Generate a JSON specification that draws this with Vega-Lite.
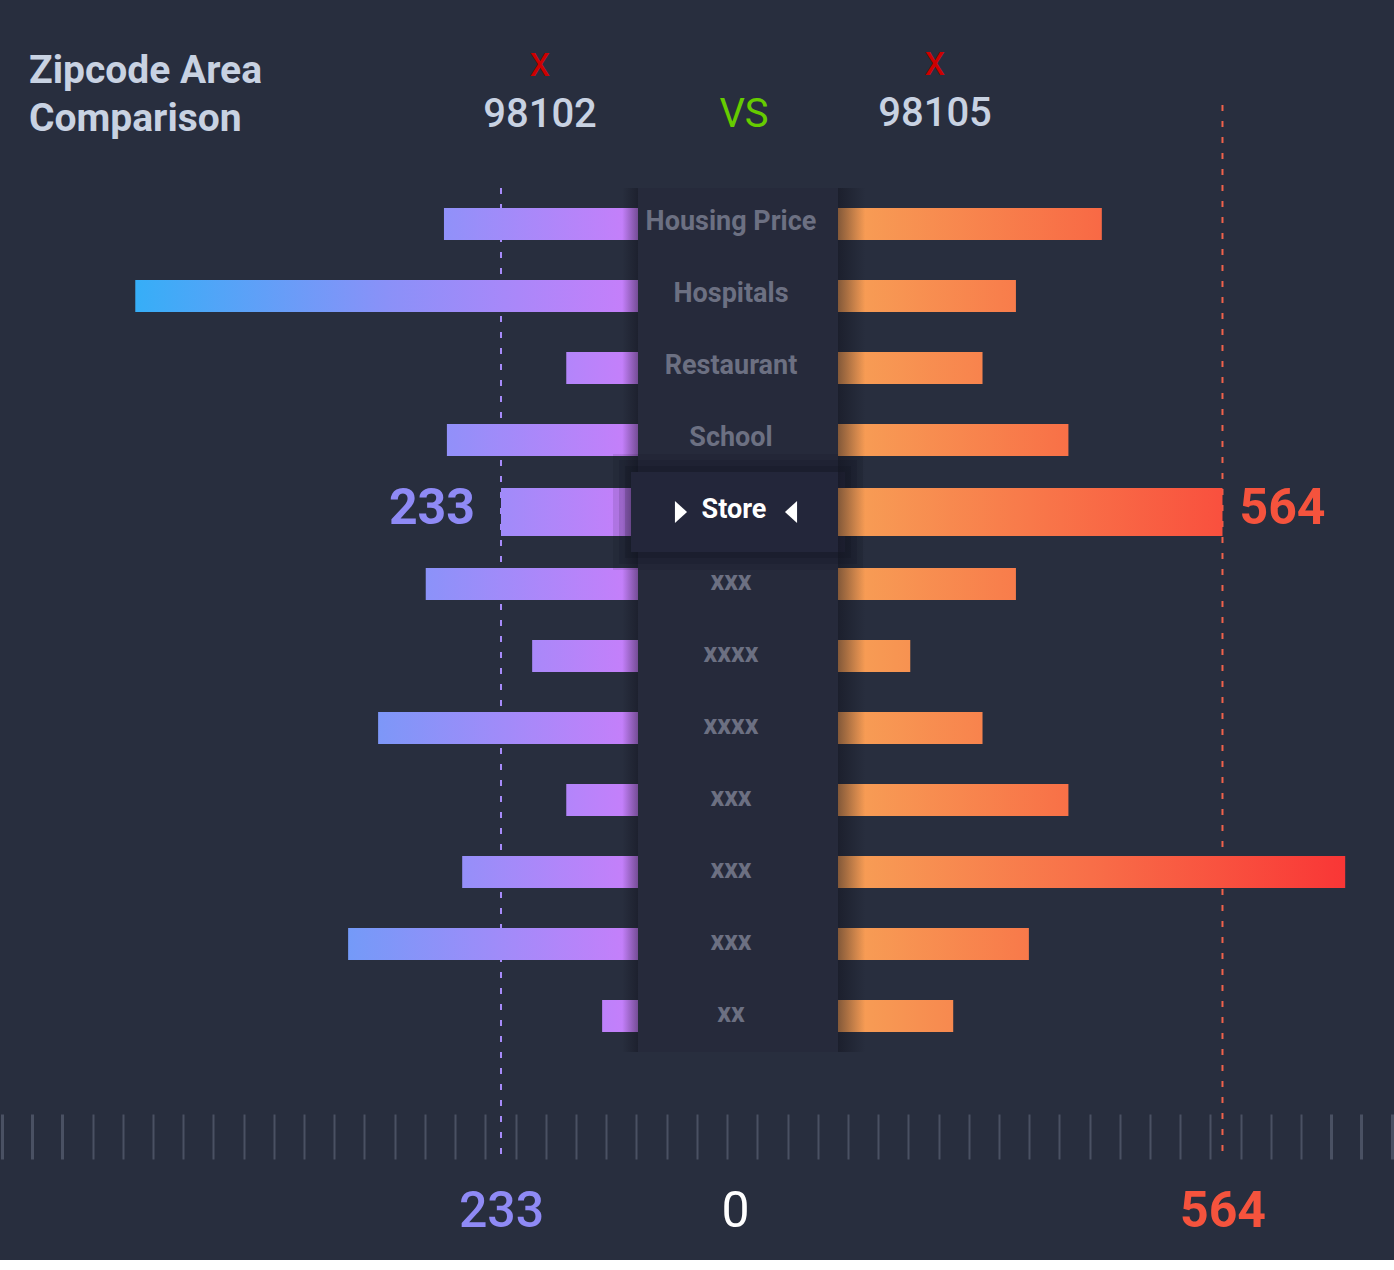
{
  "$schema": "https://vega.github.io/schema/vega-lite/v6.json",
  "background": "#282e3e",
  "padding": {"top": 41, "left": 0, "right": 0, "bottom": 24},
  "autosize": {"type": "pad"},
  "bounds": "flush",
  "spacing": 0,
  "config": {"font": "Roboto", "view": {"stroke": null}},
  "title": {"text": ["Zipcode Area", "Comparison"], "anchor": "start", "frame": "group", "dx": 29, "offset": -98, "fontSize": 39, "lineHeight": 48, "color": "#c8d2e2", "font": "Roboto", "fontWeight": "bold"},
  "data": {"values": [
    {"key": "Housing Price", "label": "Housing Price", "left": 330, "right": 387},
    {"key": "Hospitals", "label": "Hospitals", "left": 855, "right": 261},
    {"key": "Restaurant", "label": "Restaurant", "left": 122, "right": 212},
    {"key": "School", "label": "School", "left": 325, "right": 338},
    {"key": "Store", "label": "Store", "left": 233, "right": 564},
    {"key": "xxx 1", "label": "xxx", "left": 361, "right": 261},
    {"key": "xxxx 1", "label": "xxxx", "left": 180, "right": 106},
    {"key": "xxxx 2", "label": "xxxx", "left": 442, "right": 212},
    {"key": "xxx 2", "label": "xxx", "left": 122, "right": 338},
    {"key": "xxx 3", "label": "xxx", "left": 299, "right": 744},
    {"key": "xxx 4", "label": "xxx", "left": 493, "right": 280},
    {"key": "xx", "label": "xx", "left": 61, "right": 169}
  ]},
  "resolve": {"scale": {"x": "independent", "y": "shared"}},
  "hconcat": [
    {
      "width": 638,
      "height": 1054,
      "title": {"text": "x", "subtitle": "98102", "anchor": "end", "align": "center", "dx": -98, "frame": "group", "offset": -31, "color": "#cc0000", "fontSize": 42, "fontWeight": "normal", "font": "Roboto", "subtitleFont": "Roboto", "subtitleColor": "#c8d2e2", "subtitleFontSize": 40, "subtitleFontWeight": 500, "subtitlePadding": 10},
      "layer": [
        {
          "transform": [{"filter": "datum.key === 'Store'"}],
          "mark": {"type": "rule", "color": "#a78bfa", "strokeWidth": 2, "strokeDash": [6, 10]},
          "encoding": {
            "x": {"field": "left", "type": "quantitative",
                  "scale": {"domain": [0, 1085.07], "reverse": true, "nice": false, "zero": true},
                  "axis": {"title": null, "domain": false, "grid": false, "tickSize": 45, "offset": -45, "tickCount": 200,
                           "values": [1081.7, 1030.3, 978.9, 927.6, 876.2, 824.8, 773.4, 722.1, 670.7, 619.3, 567.9, 516.5, 465.2, 413.8, 362.4, 311.0, 259.6, 208.3, 156.9, 105.5, 54.1, 2.7, 233],
                           "labelExpr": "datum.value === 233 ? '233' : ''",
                           "labelOverlap": false, "labelFlush": false,
                           "labelFont": "Roboto", "labelFontSize": 50, "labelFontWeight": 500, "labelColor": "#8f8af5",
                           "labelBaseline": "alphabetic", "labelPadding": 67,
                           "tickColor": {"condition": {"test": "datum.value === 233", "value": "rgba(0,0,0,0)"}, "value": "#4a5163"},
                           "tickWidth": {"condition": {"test": "datum.value > 950", "value": 3}, "value": 2}}},
            "y": {"datum": "Housing Price", "type": "nominal", "bandPosition": 0, "axis": null,
                  "scale": {"domain": ["Housing Price", "Hospitals", "Restaurant", "School", "Store", "xxx 1", "xxxx 1", "xxxx 2", "xxx 2", "xxx 3", "xxx 4", "xx", "spacer"], "paddingInner": 0, "paddingOuter": 0.8194, "align": 0.7034}},
            "y2": {"value": "height"}
          }
        },
        {
          "mark": {"type": "bar"},
          "encoding": {
            "x": {"field": "left", "type": "quantitative"},
            "y": {"field": "key", "type": "nominal", "sort": null, "axis": null,
                  "scale": {"domain": ["Housing Price", "Hospitals", "Restaurant", "School", "Store", "xxx 1", "xxxx 1", "xxxx 2", "xxx 2", "xxx 3", "xxx 4", "xx", "spacer"], "paddingInner": 0, "paddingOuter": 0.8194, "align": 0.7034}},
            "size": {"condition": {"test": "datum.key === 'Store'", "value": 48}, "value": 32},
            "fill": {"condition": [
              {"test": "datum.key === 'Housing Price'", "value": {"gradient": "linear", "x1": 0, "y1": 0, "x2": 1, "y2": 0, "stops": [{"offset": 0, "color": "#9091f9"}, {"offset": 1, "color": "#c87efa"}]}},
              {"test": "datum.key === 'Hospitals'", "value": {"gradient": "linear", "x1": 0, "y1": 0, "x2": 1, "y2": 0, "stops": [{"offset": 0, "color": "#36aef7"}, {"offset": 0.5, "color": "#8a91f8"}, {"offset": 1, "color": "#c87efa"}]}},
              {"test": "datum.key === 'Restaurant'", "value": {"gradient": "linear", "x1": 0, "y1": 0, "x2": 1, "y2": 0, "stops": [{"offset": 0, "color": "#b385fa"}, {"offset": 1, "color": "#c87efa"}]}},
              {"test": "datum.key === 'School'", "value": {"gradient": "linear", "x1": 0, "y1": 0, "x2": 1, "y2": 0, "stops": [{"offset": 0, "color": "#9190f9"}, {"offset": 1, "color": "#c87efa"}]}},
              {"test": "datum.key === 'Store'", "value": {"gradient": "linear", "x1": 0, "y1": 0, "x2": 1, "y2": 0, "stops": [{"offset": 0, "color": "#a08bf9"}, {"offset": 1, "color": "#c87efa"}]}},
              {"test": "datum.key === 'xxx 1'", "value": {"gradient": "linear", "x1": 0, "y1": 0, "x2": 1, "y2": 0, "stops": [{"offset": 0, "color": "#8b92f9"}, {"offset": 1, "color": "#c87efa"}]}},
              {"test": "datum.key === 'xxxx 1'", "value": {"gradient": "linear", "x1": 0, "y1": 0, "x2": 1, "y2": 0, "stops": [{"offset": 0, "color": "#a988f9"}, {"offset": 1, "color": "#c87efa"}]}},
              {"test": "datum.key === 'xxxx 2'", "value": {"gradient": "linear", "x1": 0, "y1": 0, "x2": 1, "y2": 0, "stops": [{"offset": 0, "color": "#7d97f8"}, {"offset": 1, "color": "#c87efa"}]}},
              {"test": "datum.key === 'xxx 2'", "value": {"gradient": "linear", "x1": 0, "y1": 0, "x2": 1, "y2": 0, "stops": [{"offset": 0, "color": "#b385fa"}, {"offset": 1, "color": "#c87efa"}]}},
              {"test": "datum.key === 'xxx 3'", "value": {"gradient": "linear", "x1": 0, "y1": 0, "x2": 1, "y2": 0, "stops": [{"offset": 0, "color": "#958ff9"}, {"offset": 1, "color": "#c87efa"}]}},
              {"test": "datum.key === 'xxx 4'", "value": {"gradient": "linear", "x1": 0, "y1": 0, "x2": 1, "y2": 0, "stops": [{"offset": 0, "color": "#749af8"}, {"offset": 1, "color": "#c87efa"}]}}
            ], "value": {"gradient": "linear", "x1": 0, "y1": 0, "x2": 1, "y2": 0, "stops": [{"offset": 0, "color": "#bd81fa"}, {"offset": 1, "color": "#c87efa"}]}}
          }
        },
        {
          "mark": {"type": "bar", "fill": {"gradient": "linear", "x1": 0, "y1": 0, "x2": 1, "y2": 0, "stops": [{"offset": 0, "color": "rgba(16,17,28,0)"}, {"offset": 1, "color": "rgba(16,17,28,0.45)"}]}},
          "encoding": {
            "x": {"datum": 0, "type": "quantitative"},
            "x2": {"datum": 27},
            "y": {"field": "key", "type": "nominal", "sort": null, "axis": null,
                  "scale": {"domain": ["Housing Price", "Hospitals", "Restaurant", "School", "Store", "xxx 1", "xxxx 1", "xxxx 2", "xxx 2", "xxx 3", "xxx 4", "xx", "spacer"], "paddingInner": 0, "paddingOuter": 0.8194, "align": 0.7034}}
          }
        },
        {
          "transform": [{"filter": "datum.key === 'Store'"}],
          "mark": {"type": "text", "align": "right", "baseline": "alphabetic", "dx": -26, "dy": 12, "fontSize": 50, "fontWeight": "bold", "color": "#8f8af5", "font": "Roboto"},
          "encoding": {
            "x": {"field": "left", "type": "quantitative"},
            "y": {"field": "key", "type": "nominal", "sort": null, "axis": null,
                  "scale": {"domain": ["Housing Price", "Hospitals", "Restaurant", "School", "Store", "xxx 1", "xxxx 1", "xxxx 2", "xxx 2", "xxx 3", "xxx 4", "xx", "spacer"], "paddingInner": 0, "paddingOuter": 0.8194, "align": 0.7034}},
            "text": {"field": "left", "type": "quantitative"}
          }
        }
      ]
    },
    {
      "width": 200,
      "height": 1054,
      "title": {"text": " ", "subtitle": "VS", "anchor": "middle", "align": "center", "dx": 6, "frame": "group", "offset": -31, "color": "#cc0000", "fontSize": 42, "fontWeight": "normal", "font": "Roboto", "subtitleFont": "Roboto", "subtitleColor": "#66cc00", "subtitleFontSize": 40, "subtitleFontWeight": "normal", "subtitlePadding": 10},
      "layer": [
        {
          "mark": {"type": "bar", "color": "#262a3b"},
          "encoding": {
            "x": {"datum": -100, "type": "quantitative",
                  "scale": {"domain": [-100, 100], "nice": false, "zero": false},
                  "axis": {"title": null, "domain": false, "grid": false, "tickSize": 45, "offset": -45, "tickCount": 200,
                           "values": [-71.4, -41.2, -11.0, 19.3, 49.5, 79.7, 0],
                           "labelExpr": "datum.value === 0 ? '0' : ''",
                           "labelOverlap": false, "labelFlush": false,
                           "labelFont": "Roboto", "labelFontSize": 50, "labelFontWeight": "normal", "labelColor": "#ffffff",
                           "labelBaseline": "alphabetic", "labelPadding": 67, "labelOffset": -3,
                           "tickColor": {"condition": {"test": "datum.value === 0", "value": "rgba(0,0,0,0)"}, "value": "#4a5163"},
                           "tickWidth": 2}},
            "x2": {"datum": 100},
            "y": {"field": "key", "type": "nominal", "sort": null, "axis": null,
                  "scale": {"domain": ["Housing Price", "Hospitals", "Restaurant", "School", "Store", "xxx 1", "xxxx 1", "xxxx 2", "xxx 2", "xxx 3", "xxx 4", "xx", "spacer"], "paddingInner": 0, "paddingOuter": 0.8194, "align": 0.7034}}
          }
        },
        {
          "transform": [{"filter": "datum.key === 'Store'"}],
          "mark": {"type": "bar", "fill": "transparent", "stroke": "#0a0c15", "strokeOpacity": 0.1, "strokeWidth": 50},
          "encoding": {
            "x": {"datum": -100, "type": "quantitative"}, "x2": {"datum": 100},
            "y": {"field": "key", "type": "nominal", "sort": null, "axis": null,
                  "scale": {"domain": ["Housing Price", "Hospitals", "Restaurant", "School", "Store", "xxx 1", "xxxx 1", "xxxx 2", "xxx 2", "xxx 3", "xxx 4", "xx", "spacer"], "paddingInner": 0, "paddingOuter": 0.8194, "align": 0.7034}},
            "size": {"value": 66}
          }
        },
        {
          "transform": [{"filter": "datum.key === 'Store'"}],
          "mark": {"type": "bar", "fill": "transparent", "stroke": "#0a0c15", "strokeOpacity": 0.12, "strokeWidth": 38},
          "encoding": {
            "x": {"datum": -100, "type": "quantitative"}, "x2": {"datum": 100},
            "y": {"field": "key", "type": "nominal", "sort": null, "axis": null,
                  "scale": {"domain": ["Housing Price", "Hospitals", "Restaurant", "School", "Store", "xxx 1", "xxxx 1", "xxxx 2", "xxx 2", "xxx 3", "xxx 4", "xx", "spacer"], "paddingInner": 0, "paddingOuter": 0.8194, "align": 0.7034}},
            "size": {"value": 66}
          }
        },
        {
          "transform": [{"filter": "datum.key === 'Store'"}],
          "mark": {"type": "bar", "fill": "transparent", "stroke": "#0a0c15", "strokeOpacity": 0.15, "strokeWidth": 26},
          "encoding": {
            "x": {"datum": -100, "type": "quantitative"}, "x2": {"datum": 100},
            "y": {"field": "key", "type": "nominal", "sort": null, "axis": null,
                  "scale": {"domain": ["Housing Price", "Hospitals", "Restaurant", "School", "Store", "xxx 1", "xxxx 1", "xxxx 2", "xxx 2", "xxx 3", "xxx 4", "xx", "spacer"], "paddingInner": 0, "paddingOuter": 0.8194, "align": 0.7034}},
            "size": {"value": 66}
          }
        },
        {
          "transform": [{"filter": "datum.key === 'Store'"}],
          "mark": {"type": "bar", "fill": "#23263a", "stroke": "#23263a", "strokeWidth": 14},
          "encoding": {
            "x": {"datum": -100, "type": "quantitative"}, "x2": {"datum": 100},
            "y": {"field": "key", "type": "nominal", "sort": null, "axis": null,
                  "scale": {"domain": ["Housing Price", "Hospitals", "Restaurant", "School", "Store", "xxx 1", "xxxx 1", "xxxx 2", "xxx 2", "xxx 3", "xxx 4", "xx", "spacer"], "paddingInner": 0, "paddingOuter": 0.8194, "align": 0.7034}},
            "size": {"value": 66}
          }
        },
        {
          "transform": [{"filter": "datum.key !== 'Store'"}],
          "mark": {"type": "text", "align": "center", "baseline": "alphabetic", "dx": -7, "dy": 6, "fontSize": 27, "fontWeight": "bold", "color": "#6c7082", "font": "Roboto"},
          "encoding": {
            "y": {"field": "key", "type": "nominal", "sort": null, "axis": null,
                  "scale": {"domain": ["Housing Price", "Hospitals", "Restaurant", "School", "Store", "xxx 1", "xxxx 1", "xxxx 2", "xxx 2", "xxx 3", "xxx 4", "xx", "spacer"], "paddingInner": 0, "paddingOuter": 0.8194, "align": 0.7034}},
            "text": {"field": "label", "type": "nominal"}
          }
        },
        {
          "transform": [{"filter": "datum.key === 'Store'"}],
          "mark": {"type": "text", "align": "center", "baseline": "alphabetic", "dx": -4, "dy": 6, "fontSize": 27, "fontWeight": "bold", "color": "#ffffff", "font": "Roboto"},
          "encoding": {
            "y": {"field": "key", "type": "nominal", "sort": null, "axis": null,
                  "scale": {"domain": ["Housing Price", "Hospitals", "Restaurant", "School", "Store", "xxx 1", "xxxx 1", "xxxx 2", "xxx 2", "xxx 3", "xxx 4", "xx", "spacer"], "paddingInner": 0, "paddingOuter": 0.8194, "align": 0.7034}},
            "text": {"field": "label", "type": "nominal"}
          }
        },
        {
          "transform": [{"filter": "datum.key === 'Store'"}],
          "mark": {"type": "point", "shape": "M -0.55 -1 L 0.55 0 L -0.55 1 Z", "filled": true, "size": 484, "color": "#ffffff", "opacity": 1, "strokeWidth": 0},
          "encoding": {
            "x": {"datum": -57, "type": "quantitative"},
            "y": {"field": "key", "type": "nominal", "sort": null, "axis": null,
                  "scale": {"domain": ["Housing Price", "Hospitals", "Restaurant", "School", "Store", "xxx 1", "xxxx 1", "xxxx 2", "xxx 2", "xxx 3", "xxx 4", "xx", "spacer"], "paddingInner": 0, "paddingOuter": 0.8194, "align": 0.7034}}
          }
        },
        {
          "transform": [{"filter": "datum.key === 'Store'"}],
          "mark": {"type": "point", "shape": "M 0.55 -1 L -0.55 0 L 0.55 1 Z", "filled": true, "size": 484, "color": "#ffffff", "opacity": 1, "strokeWidth": 0},
          "encoding": {
            "x": {"datum": 53, "type": "quantitative"},
            "y": {"field": "key", "type": "nominal", "sort": null, "axis": null,
                  "scale": {"domain": ["Housing Price", "Hospitals", "Restaurant", "School", "Store", "xxx 1", "xxxx 1", "xxxx 2", "xxx 2", "xxx 3", "xxx 4", "xx", "spacer"], "paddingInner": 0, "paddingOuter": 0.8194, "align": 0.7034}}
          }
        }
      ]
    },
    {
      "width": 556,
      "height": 1054,
      "title": {"text": "x", "subtitle": "98105", "anchor": "start", "align": "center", "dx": 97, "frame": "group", "offset": -31, "color": "#cc0000", "fontSize": 42, "fontWeight": "normal", "font": "Roboto", "subtitleFont": "Roboto", "subtitleColor": "#c8d2e2", "subtitleFontSize": 40, "subtitleFontWeight": 500, "subtitlePadding": 10},
      "layer": [
        {
          "transform": [{"filter": "datum.key === 'Store'"}],
          "mark": {"type": "rule", "color": "#f0624b", "strokeWidth": 2, "strokeDash": [6, 10]},
          "encoding": {
            "x": {"field": "right", "type": "quantitative",
                  "scale": {"domain": [0, 815.6], "nice": false, "zero": true},
                  "axis": {"title": null, "domain": false, "grid": false, "tickSize": 45, "offset": -45, "tickCount": 200,
                           "values": [14.5, 58.8, 103.1, 147.5, 191.8, 236.1, 280.4, 324.7, 369.1, 413.4, 457.7, 502.0, 546.3, 590.7, 635.0, 679.3, 723.6, 767.9, 812.3, 564],
                           "labelExpr": "datum.value === 564 ? '564' : ''",
                           "labelOverlap": false, "labelFlush": false,
                           "labelFont": "Roboto", "labelFontSize": 50, "labelFontWeight": "bold", "labelColor": "#f5533d",
                           "labelBaseline": "alphabetic", "labelPadding": 67,
                           "tickColor": {"condition": {"test": "datum.value === 564", "value": "rgba(0,0,0,0)"}, "value": "#4a5163"},
                           "tickWidth": {"condition": {"test": "datum.value > 700", "value": 3}, "value": 2}}}
          }
        },
        {
          "mark": {"type": "bar"},
          "encoding": {
            "x": {"field": "right", "type": "quantitative"},
            "y": {"field": "key", "type": "nominal", "sort": null, "axis": null,
                  "scale": {"domain": ["Housing Price", "Hospitals", "Restaurant", "School", "Store", "xxx 1", "xxxx 1", "xxxx 2", "xxx 2", "xxx 3", "xxx 4", "xx", "spacer"], "paddingInner": 0, "paddingOuter": 0.8194, "align": 0.7034}},
            "size": {"condition": {"test": "datum.key === 'Store'", "value": 48}, "value": 32},
            "fill": {"condition": [
              {"test": "datum.key === 'Housing Price'", "value": {"gradient": "linear", "x1": 0, "y1": 0, "x2": 1, "y2": 0, "stops": [{"offset": 0, "color": "#f7a156"}, {"offset": 1, "color": "#f86945"}]}},
              {"test": "datum.key === 'Hospitals'", "value": {"gradient": "linear", "x1": 0, "y1": 0, "x2": 1, "y2": 0, "stops": [{"offset": 0, "color": "#f7a156"}, {"offset": 1, "color": "#f87c4b"}]}},
              {"test": "datum.key === 'Restaurant'", "value": {"gradient": "linear", "x1": 0, "y1": 0, "x2": 1, "y2": 0, "stops": [{"offset": 0, "color": "#f7a156"}, {"offset": 1, "color": "#f8834d"}]}},
              {"test": "datum.key === 'School'", "value": {"gradient": "linear", "x1": 0, "y1": 0, "x2": 1, "y2": 0, "stops": [{"offset": 0, "color": "#f7a156"}, {"offset": 1, "color": "#f87047"}]}},
              {"test": "datum.key === 'Store'", "value": {"gradient": "linear", "x1": 0, "y1": 0, "x2": 1, "y2": 0, "stops": [{"offset": 0, "color": "#f7a156"}, {"offset": 1, "color": "#f9503e"}]}},
              {"test": "datum.key === 'xxx 1'", "value": {"gradient": "linear", "x1": 0, "y1": 0, "x2": 1, "y2": 0, "stops": [{"offset": 0, "color": "#f7a156"}, {"offset": 1, "color": "#f87c4b"}]}},
              {"test": "datum.key === 'xxxx 1'", "value": {"gradient": "linear", "x1": 0, "y1": 0, "x2": 1, "y2": 0, "stops": [{"offset": 0, "color": "#f7a156"}, {"offset": 1, "color": "#f79251"}]}},
              {"test": "datum.key === 'xxxx 2'", "value": {"gradient": "linear", "x1": 0, "y1": 0, "x2": 1, "y2": 0, "stops": [{"offset": 0, "color": "#f7a156"}, {"offset": 1, "color": "#f8834d"}]}},
              {"test": "datum.key === 'xxx 2'", "value": {"gradient": "linear", "x1": 0, "y1": 0, "x2": 1, "y2": 0, "stops": [{"offset": 0, "color": "#f7a156"}, {"offset": 1, "color": "#f87047"}]}},
              {"test": "datum.key === 'xxx 3'", "value": {"gradient": "linear", "x1": 0, "y1": 0, "x2": 1, "y2": 0, "stops": [{"offset": 0, "color": "#f7a156"}, {"offset": 0.5, "color": "#f86e48"}, {"offset": 1, "color": "#f93636"}]}},
              {"test": "datum.key === 'xxx 4'", "value": {"gradient": "linear", "x1": 0, "y1": 0, "x2": 1, "y2": 0, "stops": [{"offset": 0, "color": "#f7a156"}, {"offset": 1, "color": "#f8794a"}]}}
            ], "value": {"gradient": "linear", "x1": 0, "y1": 0, "x2": 1, "y2": 0, "stops": [{"offset": 0, "color": "#f7a156"}, {"offset": 1, "color": "#f7894f"}]}}
          }
        },
        {
          "mark": {"type": "bar", "fill": {"gradient": "linear", "x1": 0, "y1": 0, "x2": 1, "y2": 0, "stops": [{"offset": 0, "color": "rgba(16,17,28,0.5)"}, {"offset": 1, "color": "rgba(16,17,28,0)"}]}},
          "encoding": {
            "x": {"datum": 0, "type": "quantitative"},
            "x2": {"datum": 40},
            "y": {"field": "key", "type": "nominal", "sort": null, "axis": null,
                  "scale": {"domain": ["Housing Price", "Hospitals", "Restaurant", "School", "Store", "xxx 1", "xxxx 1", "xxxx 2", "xxx 2", "xxx 3", "xxx 4", "xx", "spacer"], "paddingInner": 0, "paddingOuter": 0.8194, "align": 0.7034}}
          }
        },
        {
          "transform": [{"filter": "datum.key === 'Store'"}],
          "mark": {"type": "text", "align": "left", "baseline": "alphabetic", "dx": 17, "dy": 12, "fontSize": 50, "fontWeight": "bold", "color": "#f5533d", "font": "Roboto"},
          "encoding": {
            "x": {"field": "right", "type": "quantitative"},
            "y": {"field": "key", "type": "nominal", "sort": null, "axis": null,
                  "scale": {"domain": ["Housing Price", "Hospitals", "Restaurant", "School", "Store", "xxx 1", "xxxx 1", "xxxx 2", "xxx 2", "xxx 3", "xxx 4", "xx", "spacer"], "paddingInner": 0, "paddingOuter": 0.8194, "align": 0.7034}},
            "text": {"field": "right", "type": "quantitative"}
          }
        }
      ]
    }
  ]
}
